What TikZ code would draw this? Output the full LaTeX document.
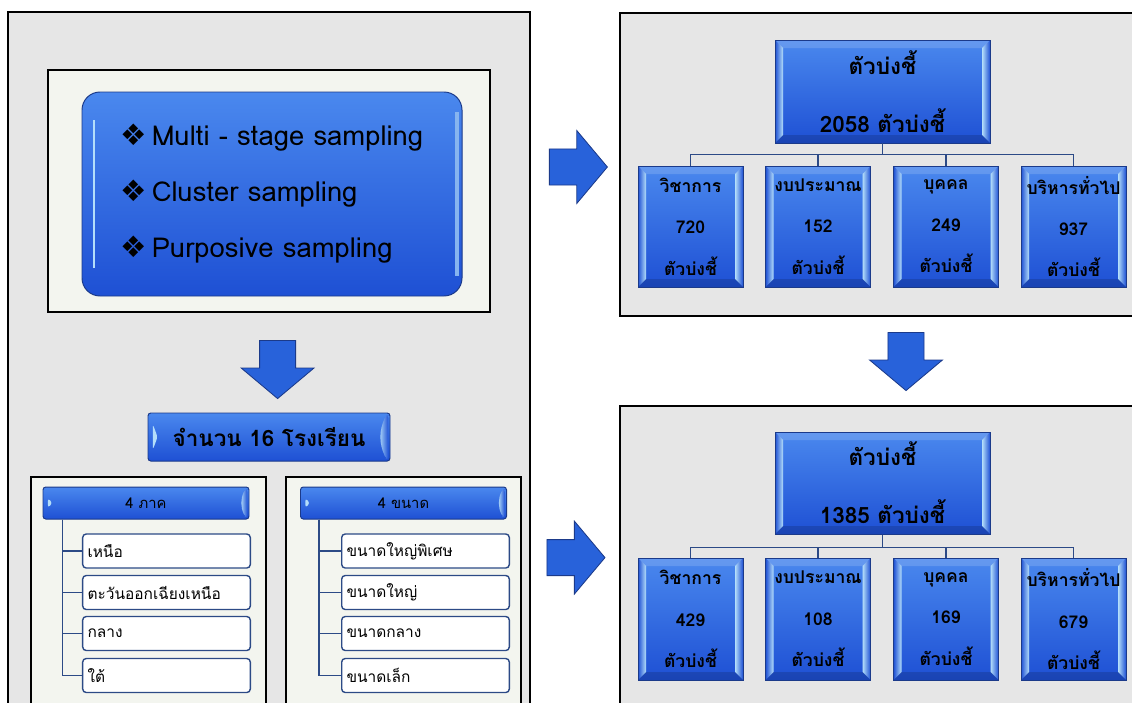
\documentclass[tikz,border=0pt]{standalone}
\usepackage{fontspec}
\usetikzlibrary{shapes.arrows,positioning}
\newfontfamily\thai[Script=Thai]{Loma}
\newfontfamily\sym{DejaVu Sans}
\definecolor{panel}{HTML}{E6E6E6}
\definecolor{inner}{HTML}{F3F5EF}
\definecolor{boxtop}{HTML}{4A88EE}
\definecolor{boxbot}{HTML}{1E50D4}
\definecolor{boxline}{HTML}{1B3A8A}
\definecolor{bevel}{HTML}{B4DEFA}
\definecolor{itemline}{HTML}{2C4A86}
\definecolor{arrowblue}{HTML}{2862DA}
\newcommand{\bv}{0.2cm}
\tikzset{
  panelbox/.style={draw=black, line width=0.9pt, fill=panel},
  subpanel/.style={draw=black, line width=0.9pt, fill=inner},
  chartbox/.style={draw=boxline, line width=0.7pt, top color=boxtop, bottom color=boxbot, align=center, inner sep=0pt,
    path picture={
      \path (path picture bounding box.north west) coordinate (pNW) (path picture bounding box.north east) coordinate (pNE)
            (path picture bounding box.south west) coordinate (pSW) (path picture bounding box.south east) coordinate (pSE);
      \shade[left color=boxbot, right color=bevel] (pNW) -- ([shift={(\bv,-\bv)}]pNW) -- ([shift={(\bv,\bv)}]pSW) -- (pSW) -- cycle;
      \shade[left color=bevel, right color=boxbot] (pNE) -- ([shift={(-\bv,-\bv)}]pNE) -- ([shift={(-\bv,\bv)}]pSE) -- (pSE) -- cycle;
      \fill[white, opacity=.15] (pNW) -- ([shift={(\bv,-\bv)}]pNW) -- ([shift={(-\bv,-\bv)}]pNE) -- (pNE) -- cycle;
      \fill[black, opacity=.15] (pSW) -- ([shift={(\bv,\bv)}]pSW) -- ([shift={(-\bv,\bv)}]pSE) -- (pSE) -- cycle;
    }},
  barbox/.style={draw=boxline, line width=0.7pt, top color=boxtop, bottom color=boxbot, rounded corners=2pt, inner sep=0pt,
    path picture={
      \path (path picture bounding box.west) coordinate (pW) (path picture bounding box.north east) coordinate (pNE)
            (path picture bounding box.south east) coordinate (pSE);
      \fill[bevel] ([shift={(0.12cm,#1)}]pW) -- ([shift={(0.24cm,0)}]pW) -- ([shift={(0.12cm,-#1)}]pW) -- cycle;
      \shade[left color=bevel, right color=boxbot] ([shift={(-0.1cm,-0.06cm)}]pNE) to[bend right=25] ([shift={(-0.1cm,0.06cm)}]pSE)
            -- ([shift={(-0.04cm,0.06cm)}]pSE) -- ([shift={(-0.04cm,-0.06cm)}]pNE) -- cycle;
    }},
  barbox/.default=0.12cm,
  roundbox/.style={draw=boxline, line width=0.7pt, top color=boxtop, bottom color=boxbot, rounded corners=0.45cm, align=left,
    path picture={
      \draw[bevel, line width=2pt] ([shift={(0.3cm,-0.7cm)}]path picture bounding box.north west) -- ([shift={(0.3cm,0.7cm)}]path picture bounding box.south west);
      \draw[bevel!70!boxbot, line width=3pt] ([shift={(-0.12cm,-0.5cm)}]path picture bounding box.north east) -- ([shift={(-0.12cm,0.5cm)}]path picture bounding box.south east);
    }},
  itembox/.style={draw=itemline, line width=1pt, fill=white, rounded corners=2.5pt, minimum height=0.85cm, inner xsep=0.12cm,
    text width=3.95cm, align=left, font=\thai\fontsize{11}{13}\selectfont},
  treeline/.style={draw=itemline, line width=1.1pt},
  orgline/.style={draw=itemline, line width=1pt},
  blockarrow/.style={single arrow, draw=boxline, fill=arrowblue, line width=0.6pt, single arrow tip angle=100,
    single arrow head indent=0pt, inner xsep=0pt, inner ysep=0.44cm, minimum height=1.45cm, single arrow head extend=0.46cm},
  downarrow/.style={blockarrow, shape border rotate=270, inner xsep=0.44cm, inner ysep=0pt},
}

\begin{document}
\begin{tikzpicture}
  \clip (0,0) rectangle (28.3,-17.55);
  % panels
  \draw[panelbox] (0.2,-0.3) rectangle (13.25,-18);
  \draw[subpanel] (1.2,-1.75) rectangle (12.25,-7.8);
  \draw[panelbox] (15.5,-0.325) rectangle (28.6,-7.9);
  \draw[panelbox] (15.5,-10.15) rectangle (28.6,-18);
  \draw[subpanel] (0.775,-11.925) rectangle (6.65,-18);
  \draw[subpanel] (7.15,-11.925) rectangle (13.025,-18);

  % sampling
  \node[roundbox, minimum width=9.5cm, minimum height=5.1cm, font=\thai\fontsize{19.5}{39.8}\selectfont] (samp) at (6.8,-4.85)
    {{\sym\fontsize{21}{21}\selectfont ❖}\,Multi - stage sampling\\{\sym\fontsize{21}{21}\selectfont ❖}\,Cluster sampling\\{\sym\fontsize{21}{21}\selectfont ❖}\,Purposive sampling};
  \node[downarrow] (arrL) at (6.94,-9.05) {};
  \node[barbox=0.32cm, minimum width=6.05cm, minimum height=1.2cm, font=\thai\bfseries\fontsize{16}{20}\selectfont] (school) at (6.725,-10.925) {จำนวน 16 โรงเรียน};

  % regions
  \node[barbox, minimum width=5.15cm, minimum height=0.8cm, font=\thai\fontsize{10.5}{12}\selectfont] (hA) at (3.65,-12.575) {4 ภาค};
  \node[itembox] (a1) at (4.1625,-13.775) {เหนือ};
  \node[itembox] (a2) at (4.1625,-14.8125) {ตะวันออกเฉียงเหนือ};
  \node[itembox] (a3) at (4.1625,-15.8375) {กลาง};
  \node[itembox] (a4) at (4.1625,-16.8875) {ใต้};
  \draw[treeline] ([xshift=0.5cm]hA.south west) |- (a1.west); \draw[treeline] ([xshift=0.5cm]hA.south west) |- (a2.west);
  \draw[treeline] ([xshift=0.5cm]hA.south west) |- (a3.west); \draw[treeline] ([xshift=0.5cm]hA.south west) |- (a4.west);

  % sizes
  \node[barbox, minimum width=5.15cm, minimum height=0.8cm, font=\thai\fontsize{10.5}{12}\selectfont] (hB) at (10.0875,-12.575) {4 ขนาด};
  \node[itembox] (b1) at (10.6375,-13.775) {ขนาดใหญ่พิเศษ};
  \node[itembox] (b2) at (10.6375,-14.8125) {ขนาดใหญ่};
  \node[itembox] (b3) at (10.6375,-15.8375) {ขนาดกลาง};
  \node[itembox] (b4) at (10.6375,-16.8875) {ขนาดเล็ก};
  \draw[treeline] ([xshift=0.48cm]hB.south west) |- (b1.west); \draw[treeline] ([xshift=0.48cm]hB.south west) |- (b2.west);
  \draw[treeline] ([xshift=0.48cm]hB.south west) |- (b3.west); \draw[treeline] ([xshift=0.48cm]hB.south west) |- (b4.west);

  % arrows between panels
  \node[blockarrow] (arrR1) at (14.27,-4.175) {};
  \node[blockarrow] (arrR2) at (14.21,-13.94) {};
  \node[downarrow] (arrD) at (22.65,-8.85) {};

  % indicators, first round
  \node[chartbox, minimum width=5.375cm, minimum height=2.575cm, font=\thai\bfseries\fontsize{16}{41.3}\selectfont] (topA) at (22.0625,-2.2875) {ตัวบ่งชี้\\2058 ตัวบ่งชี้};
  \node[chartbox, minimum width=2.625cm, minimum height=3.025cm, font=\thai\bfseries\fontsize{12.5}{29.5}\selectfont] (c1) at (17.2625,-5.6625) {วิชาการ\\720\\ตัวบ่งชี้};
  \node[chartbox, minimum width=2.625cm, minimum height=3.025cm, font=\thai\bfseries\fontsize{12.5}{29.5}\selectfont] (c2) at (20.45,-5.6625) {งบประมาณ\\152\\ตัวบ่งชี้};
  \node[chartbox, minimum width=2.625cm, minimum height=3.025cm, font=\thai\bfseries\fontsize{12.5}{29.5}\selectfont] (c3) at (23.65,-5.6625) {บุคคล\\249\\ตัวบ่งชี้};
  \node[chartbox, minimum width=2.625cm, minimum height=3.025cm, font=\thai\bfseries\fontsize{12.5}{29.5}\selectfont] (c4) at (26.8375,-5.6625) {บริหารทั่วไป\\937\\ตัวบ่งชี้};
  \coordinate (jA) at ([yshift=-0.275cm]topA.south);
  \draw[orgline] (topA.south) -- (jA) -| (c1.north); \draw[orgline] (jA) -| (c2.north); \draw[orgline] (jA) -| (c3.north); \draw[orgline] (jA) -| (c4.north);

  % indicators, second round
  \node[chartbox, minimum width=5.375cm, minimum height=2.55cm, font=\thai\bfseries\fontsize{16}{41.3}\selectfont] (topB) at (22.0625,-12.075) {ตัวบ่งชี้\\1385 ตัวบ่งชี้};
  \node[chartbox, minimum width=2.625cm, minimum height=3.05cm, font=\thai\bfseries\fontsize{12.5}{29.5}\selectfont] (d1) at (17.2625,-15.475) {วิชาการ\\429\\ตัวบ่งชี้};
  \node[chartbox, minimum width=2.625cm, minimum height=3.05cm, font=\thai\bfseries\fontsize{12.5}{29.5}\selectfont] (d2) at (20.45,-15.475) {งบประมาณ\\108\\ตัวบ่งชี้};
  \node[chartbox, minimum width=2.625cm, minimum height=3.05cm, font=\thai\bfseries\fontsize{12.5}{29.5}\selectfont] (d3) at (23.65,-15.475) {บุคคล\\169\\ตัวบ่งชี้};
  \node[chartbox, minimum width=2.625cm, minimum height=3.05cm, font=\thai\bfseries\fontsize{12.5}{29.5}\selectfont] (d4) at (26.8375,-15.475) {บริหารทั่วไป\\679\\ตัวบ่งชี้};
  \coordinate (jB) at ([yshift=-0.325cm]topB.south);
  \draw[orgline] (topB.south) -- (jB) -| (d1.north); \draw[orgline] (jB) -| (d2.north); \draw[orgline] (jB) -| (d3.north); \draw[orgline] (jB) -| (d4.north);
\end{tikzpicture}
\end{document}
